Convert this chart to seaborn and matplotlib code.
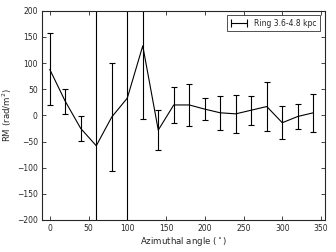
import numpy as np
import pandas as pd
import matplotlib
matplotlib.use("Agg")
import matplotlib.pyplot as plt
from matplotlib.legend_handler import HandlerErrorbar
import seaborn as sns

# azimuthal bins and rotation measure values
angle = [0, 20, 40, 60, 80, 100, 120, 140, 160, 180, 200, 220, 240, 260, 280, 300, 320, 340]
rm = [88, 27, -25, -58, -3, 33, 133, -28, 20, 20, 12, 5, 3, 10, 17, -14, -2, 5]
rm_err = [69, 24, 23, 320, 103, 320, 140, 38, 35, 40, 21, 33, 37, 28, 46, 32, 24, 36]
label = "Ring 3.6-4.8 kpc"

df = pd.DataFrame({"angle": angle, "rm": rm, "err": rm_err})

sns.set_style("ticks")
plt.rcParams["font.family"] = ["DejaVu Sans"]

fig, ax = plt.subplots(figsize=(3.36, 2.52), dpi=100)

sns.lineplot(data=df, x="angle", y="rm", color="black", linewidth=0.8, ax=ax, legend=False)
ax.errorbar(df["angle"], df["rm"], yerr=df["err"], fmt="none", ecolor="black",
            elinewidth=0.8, capsize=2, capthick=0.8)

# legend proxy (off-screen): horizontal bar with caps
proxy = ax.errorbar([1000], [1000], xerr=[5], fmt="none", ecolor="black", elinewidth=0.8,
                    capsize=3, capthick=0.8, label=label)
leg = ax.legend(handles=[proxy], loc="upper right", fontsize=5.5, frameon=True,
                fancybox=False, edgecolor="black", handlelength=2.4, borderpad=0.45,
                borderaxespad=0.6,
                handler_map={type(proxy): HandlerErrorbar(xerr_size=1.0)})
leg.get_frame().set_linewidth(0.6)

ax.set_xlim(-10, 355)
ax.set_ylim(-200, 200)
ax.set_xticks(np.arange(0, 351, 50))
ax.set_yticks(np.arange(-200, 201, 50))
ax.tick_params(direction="in", top=True, right=True, length=3, width=0.6, labelsize=5.5, pad=3)
for s in ax.spines.values():
    s.set_linewidth(0.8)

ax.set_xlabel(r"Azimuthal angle ($^\circ$)", fontsize=6.2, labelpad=1)
ax.set_ylabel(r"RM (rad/m$^2$)", fontsize=6.2, labelpad=2)

fig.subplots_adjust(left=0.125, right=0.967, top=0.957, bottom=0.127)
fig.savefig("out.png", dpi=100)
